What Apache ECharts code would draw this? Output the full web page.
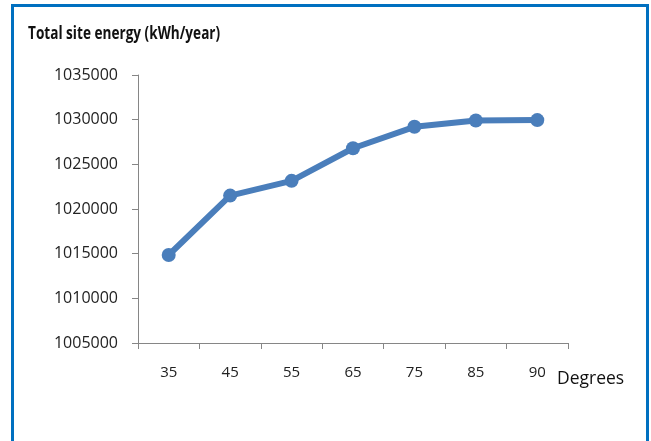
<!DOCTYPE html>
<html>
<head>
<meta charset="utf-8">
<script src="https://cdn.jsdelivr.net/npm/echarts@6/dist/echarts.min.js"></script>
<style>
  html, body { margin: 0; padding: 0; background: #fff; }
  #frame {
    position: absolute; left: 11px; top: 4px; width: 632px; height: 460px;
    border: 3px solid #0070c0; border-bottom: none;
  }
  #chart { position: absolute; left: 0; top: 0; width: 651px; height: 441px; }
</style>
</head>
<body>
<div id="frame"></div>
<div id="chart"></div>
<script>
// tilt angle (degrees) vs. total site energy
const categories = ["35", "45", "55", "65", "75", "85", "90"];
const energy = [1014850, 1021500, 1023150, 1026800, 1029200, 1029900, 1029950];
const yMin = 1005000;
const yMax = 1035000;
const yStep = 5000;

const font = "'Open Sans', sans-serif";

let chart = echarts.init(document.getElementById("chart"), null, { renderer: "canvas" });
let option = {
  animation: false,
  grid: { left: 138, right: 83, top: 75, bottom: 98 },
  xAxis: {
    type: "category",
    data: categories,
    boundaryGap: true,
    axisLine: { lineStyle: { color: "#868686", width: 1 } },
    axisTick: { show: true, length: 6, lineStyle: { color: "#868686" } },
    axisLabel: { margin: 22, fontFamily: font, fontSize: 15, color: "#222" },
    splitLine: { show: false }
  },
  yAxis: {
    type: "value",
    min: yMin,
    max: yMax,
    interval: yStep,
    axisLine: { show: true, lineStyle: { color: "#868686", width: 1 } },
    axisTick: { show: true, length: 6, lineStyle: { color: "#868686" } },
    axisLabel: {
      margin: 20, fontFamily: font, fontSize: 16, color: "#222",
      formatter: function(v) { return String(v); }
    },
    splitLine: { show: false }
  },
  graphic: [
    {
      type: "text",
      x: 28,
      y: 26,
      scaleX: 0.8,
      style: { text: "Total site energy (kWh/year)", font: "bold 17px " + font, fill: "#111" }
    },
    {
      type: "text",
      x: 557,
      y: 369,
      scaleX: 0.92,
      style: { text: "Degrees", font: "19px " + font, fill: "#111" }
    }
  ],
  series: [
    {
      type: "line",
      data: energy,
      symbol: "circle",
      symbolSize: 14,
      lineStyle: { color: "#4a7ebb", width: 6 },
      itemStyle: { color: "#4a7ebb" }
    }
  ]
};
chart.setOption(option);
</script>
</body>
</html>
